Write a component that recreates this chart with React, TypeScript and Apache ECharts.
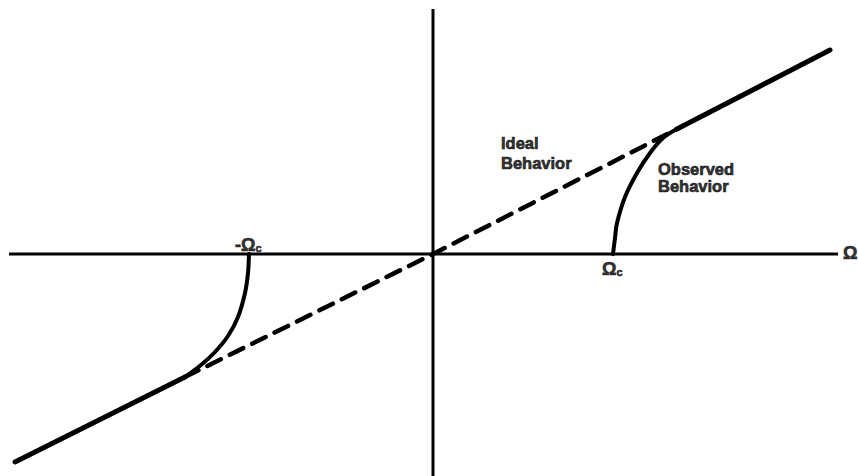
import React, { useEffect, useRef } from "react";
import * as echarts from "echarts";

// Data coordinates: horizontal = Ω (offset from origin), vertical = measured rate
const horizontalAxis: [number, number][] = [[-424, 0], [405, 0]];
const verticalAxis: [number, number][] = [[0, 245], [0, -222]];
const idealDashed: [number, number][] = [[-248, -123], [0, 0], [244, 125]];
const idealSolidRight: [number, number][] = [[244, 125], [397, 204]];
const idealSolidLeft: [number, number][] = [[-248, -123], [-418, -208]];
const observedRight: [number, number][] = [
  [180, 0], [182, 16], [184, 31], [192, 57], [204, 81], [217, 101], [230, 116], [244, 125],
];
const observedLeft: [number, number][] = [
  [-184, 0], [-185, -19], [-188, -39], [-195, -63], [-205, -82], [-218, -98], [-232, -111], [-248, -123],
];
const textLabels = [
  { text: "Ideal\nBehavior", at: [68, 101.5], lineHeight: 20 },
  { text: "Observed\nBehavior", at: [225, 77], lineHeight: 17 },
];
const symbolLabels = [
  { text: "{o|Ω}{s|c}", at: [169, -14.5] },
  { text: "{o|-Ω}{s|c}", at: [-198, 9.5] },
  { text: "{o|Ω}", at: [410, 1] },
];

const FONT = "'Liberation Sans', Arial, Helvetica, sans-serif";

export default function App() {
  const ref = useRef<HTMLDivElement>(null);
  useEffect(() => {
    if (!ref.current) return;
    const chart = echarts.init(ref.current, undefined, { renderer: "svg" });
    const lineSeries = (data: [number, number][], width: number, extra: any = {}) => ({
      type: "line",
      data,
      showSymbol: false,
      symbol: "none",
      silent: true,
      lineStyle: { color: "#000", width, cap: "round", join: "round", ...(extra.lineStyle || {}) },
      smooth: extra.smooth || false,
      z: extra.z || 2,
    });
    chart.setOption({
      animation: false,
      backgroundColor: "#fff",
      grid: { left: 0, right: 0, top: 0, bottom: 0, containLabel: false },
      xAxis: { type: "value", min: -433, max: 425, show: false },
      yAxis: { type: "value", min: -222, max: 254, show: false },
      series: [
        lineSeries(horizontalAxis, 3, { lineStyle: { cap: "butt" } }),
        lineSeries(verticalAxis, 3, { lineStyle: { cap: "butt" } }),
        lineSeries(idealDashed, 4.5, { lineStyle: { type: [15, 10], cap: "round" } }),
        lineSeries(idealSolidRight, 5),
        lineSeries(idealSolidLeft, 5),
        lineSeries(observedRight, 4, { smooth: 0.35 }),
        lineSeries(observedLeft, 4, { smooth: 0.3 }),
        {
          type: "scatter",
          symbolSize: 0,
          silent: true,
          data: textLabels.map((l) => ({
            value: l.at,
            label: {
              show: true,
              formatter: l.text,
              position: "inside",
              align: "left",
              verticalAlign: "middle",
              fontFamily: FONT,
              fontWeight: "bold",
              fontSize: 16.5,
              lineHeight: l.lineHeight,
              color: "#000",
              textBorderColor: "#000",
              textBorderWidth: 0.7,
            },
          })),
        },
        {
          type: "scatter",
          symbolSize: 0,
          silent: true,
          data: symbolLabels.map((l) => ({
            value: l.at,
            label: {
              show: true,
              formatter: l.text,
              position: "inside",
              align: "left",
              verticalAlign: "middle",
              color: "#000",
              rich: {
                o: {
                  fontFamily: FONT, fontWeight: "bold", fontSize: 18, lineHeight: 18, color: "#000",
                  textBorderColor: "#000", textBorderWidth: 0.7,
                },
                s: {
                  fontFamily: FONT, fontWeight: "bold", fontSize: 11, lineHeight: 18, verticalAlign: "bottom", color: "#000",
                  textBorderColor: "#000", textBorderWidth: 0.6,
                },
              },
            },
          })),
        },
      ],
    });
    return () => chart.dispose();
  }, []);
  return (
    <div
      ref={ref}
      style={{ position: "fixed", left: 0, top: 0, width: 858, height: 476, background: "#fff" }}
    />
  );
}
